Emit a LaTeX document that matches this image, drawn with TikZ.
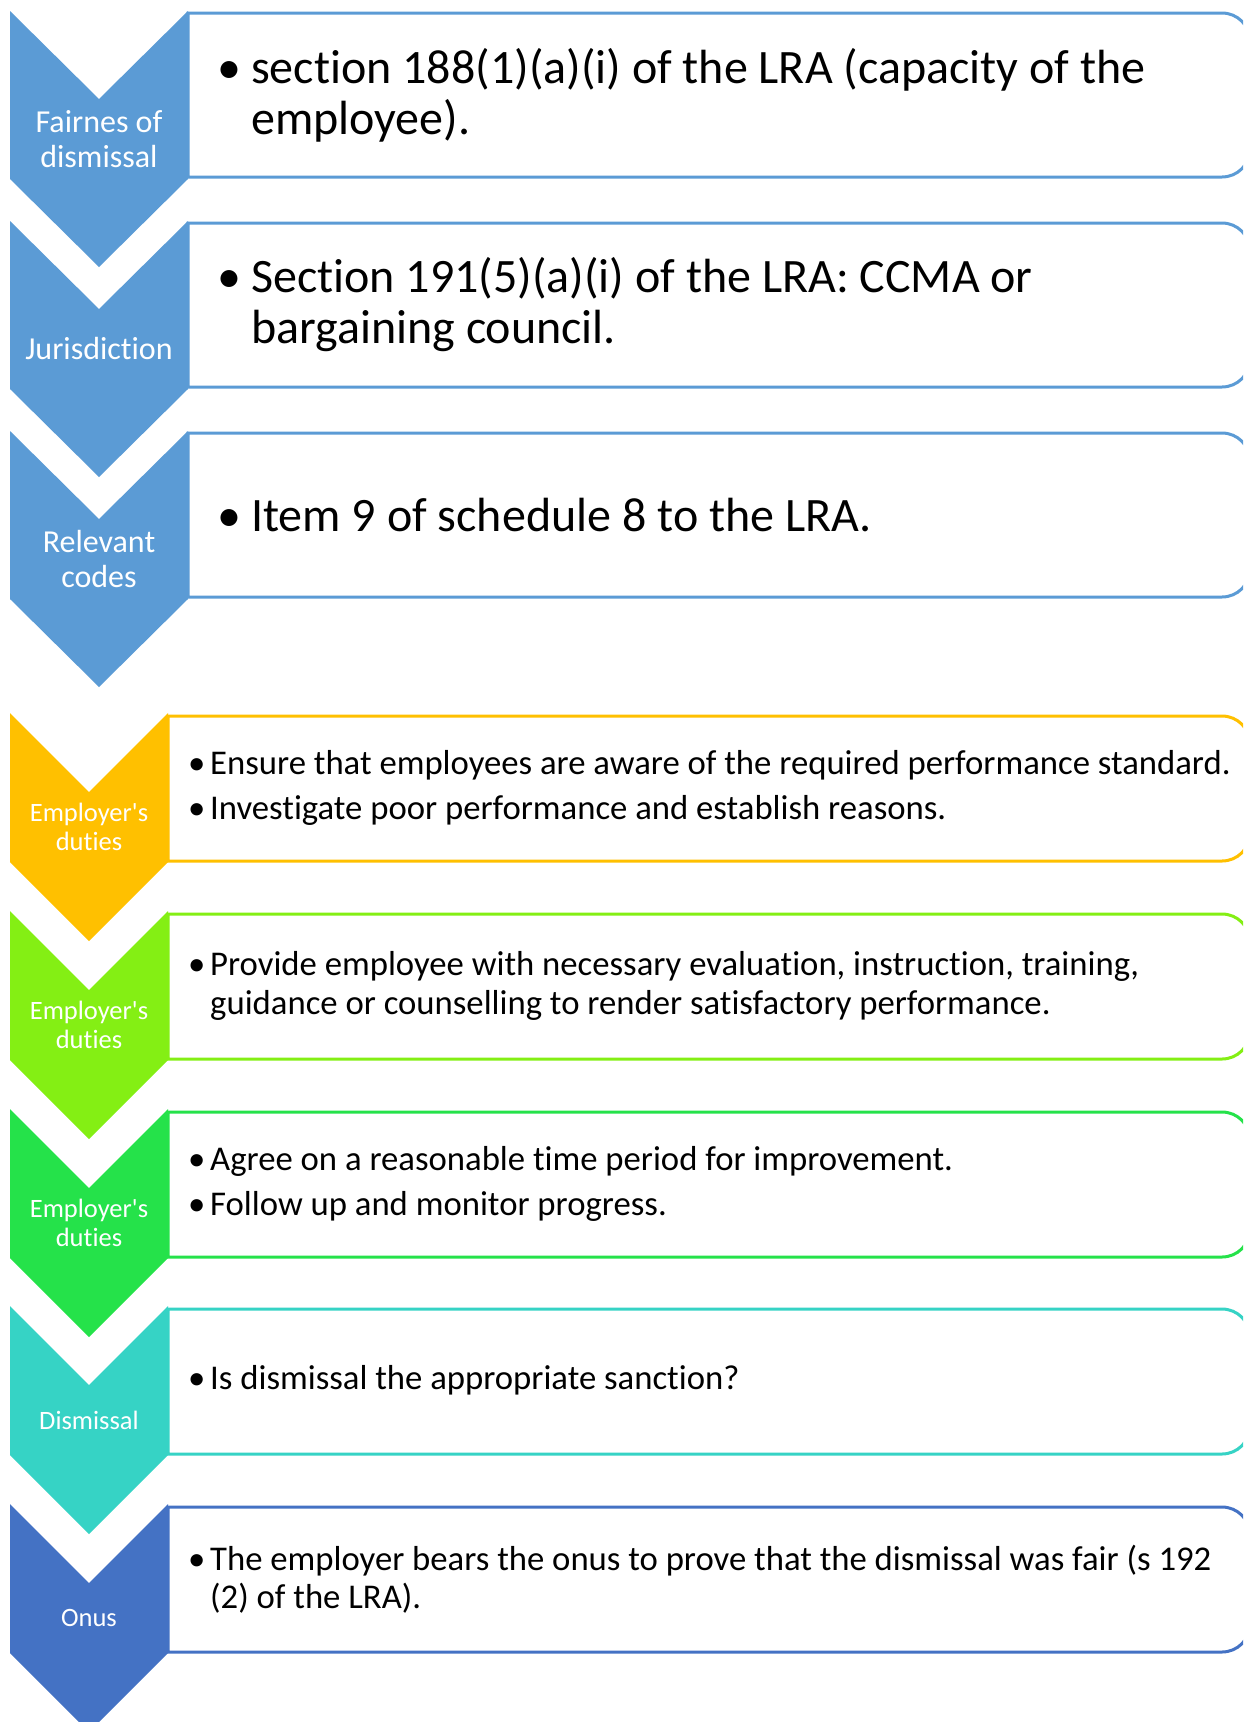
\documentclass[tikz,border=0pt]{standalone}
\usepackage{fontspec}
\setmainfont{Carlito}[Ligatures={TeXOff,NoCommon}]
\definecolor{cblue}{HTML}{5B9BD5}
\definecolor{corange}{HTML}{FFC000}
\definecolor{clime}{HTML}{84EF14}
\definecolor{cgreen}{HTML}{25E24A}
\definecolor{cteal}{HTML}{36D3C5}
\definecolor{cdblue}{HTML}{4472C4}
\newcommand\mychev[6]{%
  \fill[#6] (#1,#3) -- ({(#1+#2)/2},{#3+#4}) -- (#2,#3) -- (#2,{#3+#5})
    -- ({(#1+#2)/2},{#3+#5+#4}) -- (#1,{#3+#5}) -- cycle;}
\newcommand\mybox[4]{% x0, top, bottom, colour  (right corners rounded, left square)
  \draw[#4, line width=3pt, fill=white] (#1,#2) -- (1222,#2)
    .. controls (1237.5,#2) and (1250,{#2+12.5}) .. (1250,{#2+28})
    -- (1250,{#3-28})
    .. controls (1250,{#3-12.5}) and (1237.5,#3) .. (1222,#3) -- (#1,#3) -- cycle;}
\tikzset{
  biglabel/.style={text=white, align=center, inner sep=0pt, font=\fontsize{32}{35}\selectfont},
  smalllabel/.style={text=white, align=center, inner sep=0pt, font=\fontsize{26.5}{29.5}\selectfont},
  bigtext/.style={anchor=west, align=left, inner sep=0pt, text=black, font=\fontsize{48}{51}\selectfont},
  smalltext/.style={anchor=west, align=left, inner sep=0pt, text=black, font=\fontsize{34.7}{38.4}\selectfont}
}
\newcommand\mybigbul{\makebox[34pt][l]{\textbullet}}
\newcommand\mybigind{\hspace*{34pt}}
\newcommand\mysmbul{\makebox[22pt][l]{\textbullet}}
\newcommand\mysmind{\hspace*{22pt}}
\begin{document}
\begin{tikzpicture}[x=1pt,y=-1pt]
\useasboundingbox (0,0) rectangle (1243,1722);
\clip (0,0) rectangle (1243,1722);
% upper section
\mybox{188}{13}{177}{cblue}
\mybox{188}{223}{387}{cblue}
\mybox{188}{433}{597}{cblue}
\mychev{10}{188}{11}{88}{168}{cblue}
\mychev{10}{188}{221}{88}{168}{cblue}
\mychev{10}{188}{431}{88}{168}{cblue}
\node[biglabel] (l1) at (99,139) {Fairnes of\\dismissal};
\node[biglabel] (l2) at (99,349) {Jurisdiction};
\node[biglabel] (l3) at (99,559) {Relevant\\codes};
\node[bigtext] (t1) at (217,95) {\mybigbul section 188(1)(a)(i) of the LRA (capacity of the\\\mybigind employee).};
\node[bigtext] (t2) at (217,305) {\mybigbul Section 191(5)(a)(i) of the LRA: CCMA or\\\mybigind bargaining council.};
\node[bigtext] (t3) at (217,515) {\mybigbul Item 9 of schedule 8 to the LRA.};
% lower section
\mybox{168}{716}{861}{corange}
\mybox{168}{914}{1059}{clime}
\mybox{168}{1112}{1257}{cgreen}
\mybox{168}{1309}{1454}{cteal}
\mybox{168}{1507}{1652}{cdblue}
\mychev{10}{168}{713}{79}{149}{corange}
\mychev{10}{168}{911}{79}{149}{clime}
\mychev{10}{168}{1109}{79}{149}{cgreen}
\mychev{10}{168}{1306}{79}{149}{cteal}
\mychev{10}{168}{1504}{79}{149}{cdblue}
\node[smalllabel] (l4) at (89,827) {Employer's\\duties};
\node[smalllabel] (l5) at (89,1025) {Employer's\\duties};
\node[smalllabel] (l6) at (89,1223) {Employer's\\duties};
\node[smalllabel] (l7) at (89,1420) {Dismissal};
\node[smalllabel] (l8) at (89,1618) {Onus};
\node[smalltext] (t4) at (188,788) {\mysmbul Ensure that employees are aware of the required performance standard.\\[6.6pt]\mysmbul Investigate poor performance and establish reasons.};
\node[smalltext] (t5) at (188,986) {\mysmbul Provide employee with necessary evaluation, instruction, training,\\\mysmind guidance or counselling to render satisfactory performance.};
\node[smalltext] (t6) at (188,1184) {\mysmbul Agree on a reasonable time period for improvement.\\[6.6pt]\mysmbul Follow up and monitor progress.};
\node[smalltext] (t7) at (188,1380) {\mysmbul Is dismissal the appropriate sanction?};
\node[smalltext] (t8) at (188,1579) {\mysmbul The employer bears the onus to prove that the dismissal was fair (s 192\\\mysmind (2) of the LRA).};
\end{tikzpicture}
\end{document}
